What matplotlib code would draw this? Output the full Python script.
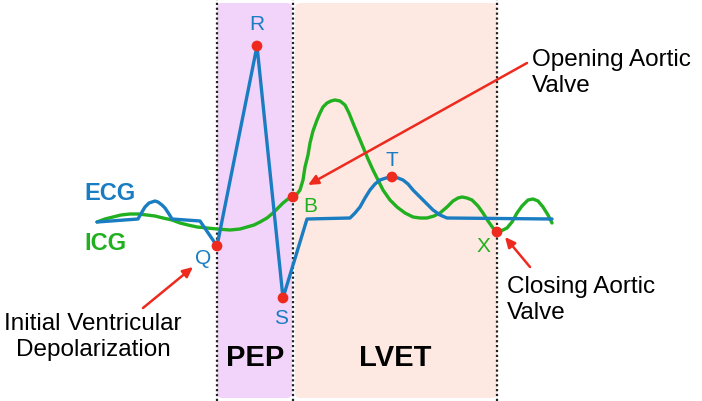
import numpy as np
import matplotlib
matplotlib.use('Agg')
import matplotlib.pyplot as plt
from matplotlib.patches import FancyBboxPatch

plt.rcParams['font.family'] = ['Liberation Sans', 'DejaVu Sans']

# waveforms (x = time, y = screen height, y axis inverted)
ecg_x = [97, 138, 142, 145, 149, 152, 155, 158, 162, 165, 169, 172, 200, 217,
         257, 283, 307, 350, 355, 360, 365, 370, 375, 380, 386, 392, 398, 403,
         408, 413, 418, 423, 428, 433, 440, 447, 552]
ecg_y = [222, 219, 212, 207, 203, 202, 201, 202, 205, 208, 214, 219, 221, 246,
         46, 298, 219, 218, 213, 207, 198, 190, 184, 180, 178, 177, 178, 180,
         184, 190, 195, 200, 205, 210, 215, 218, 219]

icg_x = [97, 105, 113, 121, 130, 138, 147, 155, 163, 172, 180, 188, 197, 207,
         217, 230, 240, 247, 254, 260, 267, 273, 278, 283, 288, 293, 297, 300,
         303, 305, 308, 310, 313, 317, 320, 323, 327, 331, 335, 340, 345, 349,
         353, 358, 363, 368, 373, 378, 383, 390, 397, 405, 413, 420, 427, 434,
         440, 447, 453, 458, 462, 467, 472, 478, 483, 488, 493, 498, 503, 507,
         512, 517, 522, 528, 533, 538, 543, 548, 552]
icg_y = [222, 219, 217, 215, 214, 214, 215, 216, 218, 220, 223, 225, 227, 228,
         229, 230, 229, 227, 225, 222, 218, 213, 208, 203, 199, 196, 194, 190,
         180, 167, 155, 143, 131, 120, 113, 107, 103, 101, 100, 101, 105, 113,
         123, 135, 147, 159, 170, 180, 190, 200, 207, 213, 217, 218, 218, 216,
         213, 207, 201, 198, 197, 198, 200, 206, 213, 221, 228, 232, 230, 228,
         222, 213, 206, 200, 199, 201, 207, 215, 223]

# fiducial points
pt_names = ['Q', 'R', 'S', 'B', 'T', 'X']
pt_x = [217, 257, 283, 293, 392, 497]
pt_y = [246, 46, 298, 197, 177, 232]

blue = '#1a7cc1'
green = '#20b020'
red = '#ee2a1e'

fig = plt.figure(figsize=(7.02, 4.01), dpi=100)
ax = fig.add_axes([0, 0, 1, 1])
ax.set_xlim(0, 702)
ax.set_ylim(401, 0)
ax.axis('off')

q_x, b_x, x_x = pt_x[0], pt_x[3], pt_x[5]

# PEP and LVET bands
ax.add_patch(FancyBboxPatch((q_x, 3), b_x - q_x - 1, 395,
                            boxstyle='round,pad=0,rounding_size=5',
                            fc='#f2d3fa', ec='none', zorder=0))
ax.add_patch(FancyBboxPatch((b_x + 2, 3), x_x - b_x - 2, 395,
                            boxstyle='round,pad=0,rounding_size=5',
                            fc='#fde9e1', ec='none', zorder=0))
for xv in [q_x, b_x, x_x]:
    ax.axvline(xv, color='#222222', lw=1.6, ls=(0, (1, 1.2)), zorder=1)

ax.plot(icg_x, icg_y, color=green, lw=2.4, solid_capstyle='round',
        solid_joinstyle='round', zorder=3)
ax.plot(ecg_x, ecg_y, color=blue, lw=2.4, solid_capstyle='round',
        solid_joinstyle='round', zorder=4)
ax.scatter(pt_x, pt_y, s=60, color=red, zorder=5, edgecolors='none')

# point labels
lab_pos = {'Q': (203, 258), 'R': (257, 25), 'S': (281, 318),
           'B': (310, 206), 'T': (392, 160), 'X': (483, 246)}
lab_col = {'Q': blue, 'R': blue, 'S': blue, 'B': green, 'T': blue, 'X': green}
for n in pt_names:
    ax.text(*lab_pos[n], n, color=lab_col[n], fontsize=15,
            ha='center', va='center')

ax.text(84, 193, 'ECG', color=blue, fontsize=17, fontweight='bold',
        ha='left', va='center')
ax.text(84, 243, 'ICG', color=green, fontsize=17, fontweight='bold',
        ha='left', va='center')

ax.text((q_x + b_x) / 2, 358, 'PEP', fontsize=21, fontweight='bold',
        ha='center', va='center')
ax.text((b_x + x_x) / 2, 358, 'LVET', fontsize=21, fontweight='bold',
        ha='center', va='center')

ax.text(93, 337, 'Initial Ventricular\nDepolarization', fontsize=17.5,
        ha='center', va='center', linespacing=1.2)
ax.text(532, 73, 'Opening Aortic\nValve', fontsize=17.5,
        ha='left', va='center', linespacing=1.2)
ax.text(507, 300, 'Closing Aortic\nValve', fontsize=17.5,
        ha='left', va='center', linespacing=1.2)

arrow = dict(arrowstyle='-|>,head_length=0.6,head_width=0.28',
             color=red, lw=1.8, shrinkA=0, shrinkB=0)
ax.annotate('', xy=(308, 185), xytext=(527, 63), arrowprops=arrow)
ax.annotate('', xy=(505, 237), xytext=(530, 267), arrowprops=arrow)
ax.annotate('', xy=(193, 267), xytext=(143, 308), arrowprops=arrow)

fig.savefig('out.png', dpi=100)
